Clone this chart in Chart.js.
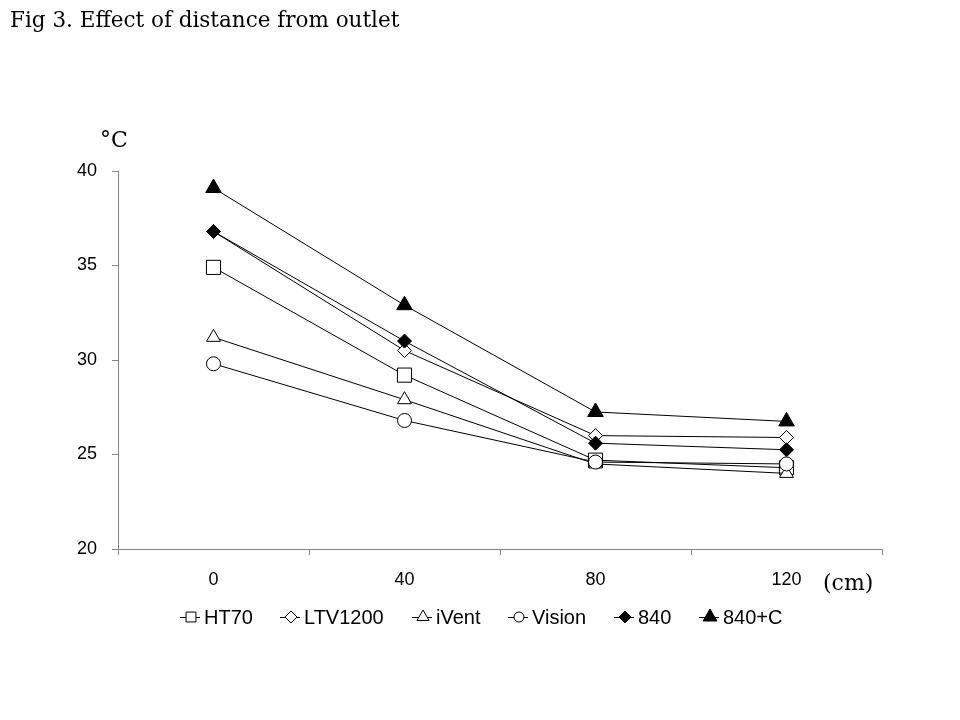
<!DOCTYPE html>
<html>
<head>
<meta charset="utf-8">
<script src="https://cdn.jsdelivr.net/npm/chart.js@4/dist/chart.umd.min.js"></script>
<style>
  html, body { margin: 0; padding: 0; background: #fff; }
  #wrap { width: 960px; height: 720px; }
</style>
</head>
<body>
<div id="wrap"><canvas id="chart" width="960" height="720"></canvas></div>
<script>
const distances = ['0', '40', '80', '120']
const seriesNames = ['HT70', 'LTV1200', 'iVent', 'Vision', '840', '840+C']
const ht70 = [34.9, 29.2, 24.7, 24.3]
const ltv1200 = [36.8, 30.5, 26.0, 25.9]
const ivent = [31.2, 27.9, 24.5, 24.0]
const vision = [29.8, 26.8, 24.6, 24.5]
const v840 = [36.8, 31.0, 25.6, 25.25]
const v840c = [39.1, 32.9, 27.25, 26.75]
const yTicks = [20, 25, 30, 35, 40]

const seriesValues = [ht70, ltv1200, ivent, vision, v840, v840c]
const markerStyles = ['rect', 'rectRot', 'triangle', 'circle', 'rectRot', 'triangle']
const markerFills = ['#fff', '#fff', '#fff', '#fff', '#000', '#000']
const markerSizes = [10, 7, 8, 7, 7, 9]
const legendSizes = [7, 6, 7, 5, 6, 8]

const serifFont = '"DejaVu Serif", "Liberation Serif", serif'
const sansFont = '"Liberation Sans", Arial, sans-serif'

function drawMarker(ctx, style, fill, r, x, y) {
	ctx.save()
	ctx.fillStyle = fill
	ctx.strokeStyle = '#000'
	ctx.lineWidth = 1
	Chart.helpers.drawPoint(ctx, { pointStyle: style, radius: r, rotation: 0, borderWidth: 1 }, x, y)
	ctx.restore()
}

// extra texts and the legend (line segment through marker, like the original)
const extras = {
	id: 'extras',
	afterDraw(chart) {
		const ctx = chart.ctx
		ctx.save()
		ctx.fillStyle = '#000'
		ctx.textBaseline = 'alphabetic'
		ctx.textAlign = 'left'
		ctx.font = '21.5px ' + serifFont
		ctx.fillText('Fig 3. Effect of distance from outlet', 10, 27)
		ctx.font = '22px ' + serifFont
		ctx.fillText('°C', 100, 147)
		ctx.fillText('(cm)', 823, 590)

		// legend
		ctx.font = '20px ' + sansFont
		const lineW = 20
		const textOff = 24
		const widths = seriesNames.map(n => ctx.measureText(n).width)
		let textTotal = 0
		widths.forEach(w => { textTotal += textOff + w })
		const gap = (602 - textTotal) / (seriesNames.length - 1)
		let x = 180
		const y = 617
		seriesNames.forEach((name, i) => {
			const x0 = Math.round(x)
			ctx.strokeStyle = '#000'
			ctx.lineWidth = 1
			ctx.beginPath()
			ctx.moveTo(x0, y + 0.5)
			ctx.lineTo(x0 + lineW, y + 0.5)
			ctx.stroke()
			drawMarker(ctx, markerStyles[i], markerFills[i], legendSizes[i], x0 + 11, y)
			ctx.fillStyle = '#000'
			ctx.textBaseline = 'middle'
			ctx.fillText(name, x0 + textOff, y + 1)
			x += textOff + widths[i] + gap
		})
		ctx.restore()
	}
}

const datasets = seriesNames.map((name, i) => ({
	label: name,
	data: seriesValues[i],
	borderColor: '#000',
	borderWidth: 1,
	pointStyle: markerStyles[i],
	pointRadius: markerSizes[i],
	pointHoverRadius: markerSizes[i],
	pointBackgroundColor: markerFills[i],
	pointBorderColor: '#000',
	pointBorderWidth: 1,
	tension: 0,
	fill: false,
	// later series drawn on top, as in the spreadsheet original
	order: seriesNames.length - i
}))

new Chart(document.getElementById('chart'), {
	type: 'line',
	data: { labels: distances, datasets },
	options: {
		responsive: false,
		animation: false,
		layout: { padding: { left: 0, top: 171, right: 78, bottom: 0 } },
		plugins: {
			legend: { display: false },
			title: { display: false },
			tooltip: { enabled: false }
		},
		scales: {
			x: {
				type: 'category',
				offset: true,
				grid: { display: true, offset: true, drawOnChartArea: false, tickLength: 6, color: '#868686' },
				border: { color: '#868686', width: 1 },
				ticks: { color: '#000', font: { family: sansFont, size: 18 }, padding: 14, maxRotation: 0 },
				afterFit(scale) { scale.height = 171 }
			},
			y: {
				min: 20,
				max: 40,
				afterBuildTicks(scale) { scale.ticks = yTicks.map(v => ({ value: v })) },
				grid: { display: true, drawOnChartArea: false, tickLength: 6, color: '#868686' },
				border: { color: '#868686', width: 1 },
				ticks: { color: '#000', font: { family: sansFont, size: 18 }, padding: 15 },
				afterFit(scale) { scale.width = 118 }
			}
		}
	},
	plugins: [extras]
})
</script>
</body>
</html>
